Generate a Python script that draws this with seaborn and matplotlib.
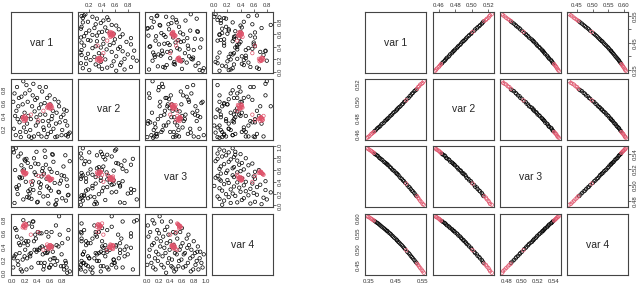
import numpy as np
import pandas as pd
import matplotlib
matplotlib.use("Agg")
from matplotlib import pyplot as plt
import seaborn as sns

names = ["var 1", "var 2", "var 3", "var 4"]

# ---- left matrix: scattered points (black) + two clusters (red)
left_black_v1 = [0.02, 0.05, 0.03, 0.08, 0.10, 0.12, 0.06, 0.15, 0.18, 0.20, 0.22, 0.25, 0.14, 0.28, 0.30,
                 0.32, 0.35, 0.38, 0.40, 0.42, 0.45, 0.48, 0.50, 0.52, 0.55, 0.58, 0.60, 0.62, 0.65, 0.68,
                 0.70, 0.72, 0.75, 0.78, 0.80, 0.83, 0.86, 0.88, 0.90, 0.92,
                 0.04, 0.09, 0.11, 0.16, 0.19, 0.23, 0.26, 0.27, 0.29, 0.33, 0.36, 0.37, 0.39, 0.41, 0.44,
                 0.46, 0.47, 0.49, 0.53, 0.56, 0.57, 0.59, 0.61, 0.63, 0.66, 0.69, 0.71, 0.74, 0.76, 0.79,
                 0.82, 0.85, 0.87, 0.89, 0.07, 0.13, 0.17, 0.21, 0.24, 0.31, 0.34, 0.43, 0.51, 0.54, 0.64]
left_black_v2 = [0.62, 0.40, 0.20, 0.85, 0.55, 0.30, 0.10, 0.70, 0.94, 0.45, 0.15, 0.62, 0.07, 0.80, 0.35,
                 0.55, 0.08, 0.25, 0.68, 0.12, 0.42, 0.78, 0.22, 0.60, 0.07, 0.32, 0.72, 0.15, 0.48, 0.66,
                 0.28, 0.08, 0.55, 0.38, 0.18, 0.50, 0.10, 0.25, 0.12, 0.14,
                 0.75, 0.35, 0.68, 0.38, 0.22, 0.88, 0.40, 0.08, 0.18, 0.72, 0.47, 0.65, 0.38, 0.30, 0.85,
                 0.58, 0.08, 0.32, 0.42, 0.68, 0.12, 0.25, 0.58, 0.35, 0.20, 0.07, 0.45, 0.62, 0.30, 0.10,
                 0.42, 0.32, 0.48, 0.08, 0.48, 0.15, 0.58, 0.75, 0.28, 0.06, 0.90, 0.52, 0.18, 0.85, 0.40]
left_black_v3 = [0.95, 0.60, 0.90, 0.28, 0.83, 0.48, 0.97, 0.68, 0.10, 0.78, 0.40, 0.72, 0.88, 0.20, 0.65,
                 0.35, 0.80, 0.52, 0.05, 0.70, 0.30, 0.58, 0.15, 0.93, 0.45, 0.03, 0.62, 0.25, 0.86, 0.38,
                 0.02, 0.55, 0.22, 0.42, 0.12, 0.50, 0.08, 0.33, 0.18, 0.75,
                 0.04, 0.19, 0.34, 0.47, 0.61, 0.79, 0.24, 0.13, 0.27, 0.41, 0.56, 0.71, 0.91, 0.06, 0.21,
                 0.36, 0.49, 0.63, 0.82, 0.32, 0.16, 0.29, 0.43, 0.57, 0.74, 0.01, 0.09, 0.23, 0.37, 0.51,
                 0.66, 0.85, 0.44, 0.17, 0.31, 0.46, 0.59, 0.76, 0.14, 0.11, 0.26, 0.39, 0.54, 0.69, 0.87]
left_black_v4 = [0.08, 0.68, 0.22, 0.55, 0.12, 0.30, 0.28, 0.52, 0.80, 0.25, 0.48, 0.42, 0.05, 0.28, 0.30,
                 0.70, 0.48, 0.52, 0.35, 0.15, 0.38, 0.40, 0.05, 0.15, 0.62, 0.55, 0.08, 0.12, 0.32, 0.22,
                 0.72, 0.18, 0.86, 0.10, 0.45, 0.05, 0.15, 0.00, 0.65, 0.02,
                 0.25, 0.18, 0.45, 0.02, 0.45, 0.05, 0.48, 0.75, 0.25, 0.78, 0.35, 0.58, 0.32, 0.62, 0.60,
                 0.15, 0.60, 0.28, 0.30, 0.30, 0.32, 0.08, 0.20, 0.62, 0.22, 0.12, 0.42, 0.40, 0.58, 0.28,
                 0.10, 0.18, 0.08, 0.52, 0.65, 0.42, 0.20, 0.35, 0.22, 0.08, 0.78, 0.35, 0.10, 0.38, 0.40]

left_red_v1 = [0.18, 0.20, 0.22, 0.19, 0.21, 0.17, 0.23, 0.20, 0.19, 0.22, 0.18, 0.21,
               0.58, 0.60, 0.62, 0.59, 0.61, 0.57, 0.63, 0.60, 0.56, 0.62, 0.59, 0.61, 0.64, 0.58,
               0.42, 0.50, 0.30]
left_red_v2 = [0.35, 0.37, 0.34, 0.38, 0.33, 0.36, 0.37, 0.40, 0.32, 0.36, 0.38, 0.35,
               0.55, 0.53, 0.56, 0.52, 0.57, 0.54, 0.55, 0.58, 0.53, 0.51, 0.56, 0.54, 0.52, 0.57,
               0.33, 0.48, 0.42]
left_red_v3 = [0.55, 0.56, 0.53, 0.57, 0.54, 0.58, 0.55, 0.52, 0.56, 0.54, 0.57, 0.55,
               0.45, 0.46, 0.43, 0.47, 0.44, 0.48, 0.45, 0.42, 0.46, 0.44, 0.47, 0.43, 0.45, 0.49,
               0.50, 0.52, 0.40]
left_red_v4 = [0.72, 0.70, 0.74, 0.71, 0.73, 0.69, 0.72, 0.75, 0.70, 0.73, 0.71, 0.68,
               0.40, 0.38, 0.41, 0.39, 0.42, 0.40, 0.37, 0.41, 0.43, 0.39, 0.38, 0.42, 0.40, 0.36,
               0.62, 0.35, 0.58]

# ---- right matrix: points lying on one curve, red at both ends and one in the middle
right_black_v1 = [0.374, 0.378, 0.383, 0.387, 0.391, 0.395, 0.399, 0.403, 0.408, 0.412, 0.416, 0.420, 0.422,
                  0.426, 0.431, 0.435, 0.439, 0.443, 0.447, 0.452, 0.456, 0.458, 0.462, 0.466, 0.470, 0.475,
                  0.479, 0.483, 0.487, 0.495, 0.500, 0.504, 0.508, 0.512, 0.516, 0.521, 0.525, 0.529]
right_black_v2 = [0.464, 0.465, 0.467, 0.468, 0.469, 0.470, 0.472, 0.473, 0.474, 0.476, 0.477, 0.478, 0.479,
                  0.480, 0.482, 0.483, 0.484, 0.486, 0.487, 0.488, 0.490, 0.490, 0.492, 0.493, 0.494, 0.496,
                  0.497, 0.499, 0.500, 0.503, 0.504, 0.506, 0.507, 0.509, 0.510, 0.512, 0.513, 0.514]
right_black_v3 = [0.540, 0.539, 0.538, 0.537, 0.535, 0.534, 0.533, 0.532, 0.530, 0.529, 0.528, 0.527, 0.526,
                  0.525, 0.523, 0.522, 0.520, 0.519, 0.518, 0.516, 0.515, 0.514, 0.513, 0.511, 0.509, 0.508,
                  0.506, 0.505, 0.503, 0.500, 0.498, 0.497, 0.495, 0.493, 0.492, 0.490, 0.488, 0.486]
right_black_v4 = [0.591, 0.588, 0.585, 0.583, 0.580, 0.577, 0.574, 0.571, 0.568, 0.565, 0.562, 0.559, 0.558,
                  0.554, 0.551, 0.548, 0.544, 0.541, 0.537, 0.534, 0.530, 0.528, 0.524, 0.521, 0.517, 0.513,
                  0.509, 0.505, 0.501, 0.492, 0.488, 0.484, 0.479, 0.475, 0.471, 0.466, 0.461, 0.457]

right_red_v1 = [0.347, 0.351, 0.355, 0.360, 0.364, 0.368, 0.372, 0.491,
                0.531, 0.535, 0.539, 0.543, 0.548, 0.552, 0.556]
right_red_v2 = [0.456, 0.457, 0.458, 0.460, 0.461, 0.462, 0.463, 0.501,
                0.515, 0.517, 0.518, 0.520, 0.521, 0.522, 0.524]
right_red_v3 = [0.547, 0.546, 0.545, 0.544, 0.543, 0.542, 0.541, 0.502,
                0.486, 0.484, 0.482, 0.480, 0.478, 0.476, 0.475]
right_red_v4 = [0.606, 0.604, 0.602, 0.599, 0.597, 0.594, 0.592, 0.497,
                0.454, 0.450, 0.445, 0.440, 0.435, 0.430, 0.425]

# tick values and labels shown on the outer axes
left_ticks = {
    "var 1": ([0.0, 0.2, 0.4, 0.6, 0.8], ["0.0", "0.2", "0.4", "0.6", "0.8"]),
    "var 2": ([0.2, 0.4, 0.6, 0.8], ["0.2", "0.4", "0.6", "0.8"]),
    "var 3": ([0.0, 0.2, 0.4, 0.6, 0.8, 1.0], ["0.0", "0.2", "0.4", "0.6", "0.8", "1.0"]),
    "var 4": ([0.0, 0.2, 0.4, 0.6, 0.8], ["0.0", "0.2", "0.4", "0.6", "0.8"]),
}
right_ticks = {
    "var 1": ([0.35, 0.40, 0.45, 0.50, 0.55], ["0.35", "", "0.45", "", "0.55"]),
    "var 2": ([0.46, 0.48, 0.50, 0.52], ["0.46", "0.48", "0.50", "0.52"]),
    "var 3": ([0.48, 0.50, 0.52, 0.54], ["0.48", "0.50", "0.52", "0.54"]),
    "var 4": ([0.45, 0.50, 0.55, 0.60], ["0.45", "0.50", "0.55", "0.60"]),
}

RED = "#DF536B"


def make_frame(black, red):
    df_b = pd.DataFrame(dict(zip(names, black)))
    df_b["grp"] = "black"
    df_r = pd.DataFrame(dict(zip(names, red)))
    df_r["grp"] = RED
    return pd.concat([df_b, df_r], ignore_index=True)


left_df = make_frame([left_black_v1, left_black_v2, left_black_v3, left_black_v4],
                     [left_red_v1, left_red_v2, left_red_v3, left_red_v4])
right_df = make_frame([right_black_v1, right_black_v2, right_black_v3, right_black_v4],
                      [right_red_v1, right_red_v2, right_red_v3, right_red_v4])

sns.set_style("white")
plt.rcParams["font.family"] = ["Liberation Sans", "DejaVu Sans"]

W, H = 640, 286
PW, PH = 61, 61
row_y = [12, 79, 146, 214]
fig = plt.figure(figsize=(6.4, 2.86), dpi=100)


def pad_lim(v):
    lo, hi = min(v), max(v)
    d = (hi - lo) * 0.04
    return lo - d, hi + d


def draw_matrix(df, col_x, ticks, size):
    lims = {n: pad_lim(df[n]) for n in names}
    for i in range(4):
        for j in range(4):
            ax = fig.add_axes([col_x[j] / W, 1 - (row_y[i] + PH) / H, PW / W, PH / H])
            xv, yv = names[j], names[i]
            if i == j:
                ax.text(0.5, 0.5, names[i], ha="center", va="center", fontsize=7.5,
                        transform=ax.transAxes)
            else:
                for grp in ["black", RED]:
                    sub = df[df["grp"] == grp]
                    sns.scatterplot(data=sub, x=xv, y=yv, ax=ax, s=size, marker="o",
                                    color=grp, linewidth=0.5, legend=False)
                    pts = ax.collections[-1]
                    pts.set_facecolor("none")
                    pts.set_edgecolor(grp)
            ax.set_xlim(lims[xv])
            ax.set_ylim(lims[yv])
            ax.set_xlabel("")
            ax.set_ylabel("")
            ax.set_xticks([])
            ax.set_yticks([])
            for sp in ax.spines.values():
                sp.set_color("#444444")
                sp.set_linewidth(0.8)
            ax.tick_params(direction="out", length=2.2, width=0.5, pad=1,
                           labelsize=4.3, colors="#333333")
            if i == 0 and j % 2 == 1:
                ax.xaxis.tick_top()
                ax.set_xticks(ticks[xv][0])
                ax.set_xticklabels(ticks[xv][1])
            if i == 3 and j % 2 == 0:
                ax.set_xticks(ticks[xv][0])
                ax.set_xticklabels(ticks[xv][1])
            if j == 0 and i % 2 == 1:
                ax.set_yticks(ticks[yv][0])
                ax.set_yticklabels(ticks[yv][1], rotation=90, va="center")
            if j == 3 and i % 2 == 0:
                ax.yaxis.tick_right()
                ax.set_yticks(ticks[yv][0])
                ax.set_yticklabels(ticks[yv][1], rotation=90, va="center")


draw_matrix(left_df, [11, 78, 145, 212], left_ticks, 6)
draw_matrix(right_df, [365, 433, 500, 567], right_ticks, 6)

fig.savefig("out.png", dpi=100)
